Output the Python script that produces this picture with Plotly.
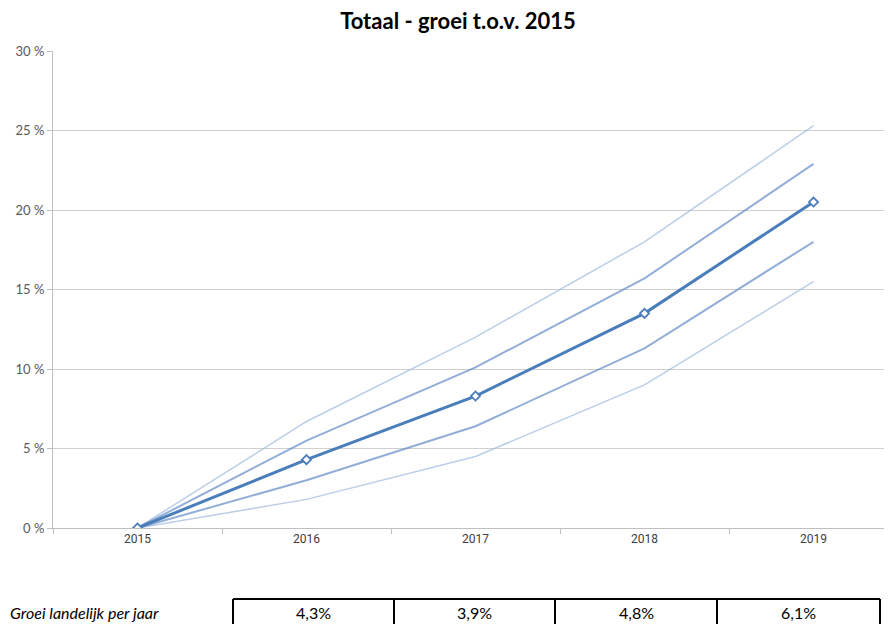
import plotly.graph_objects as go

years = ["2015", "2016", "2017", "2018", "2019"]
main = [0, 4.3, 8.3, 13.5, 20.5]
upper2 = [0, 6.7, 12.0, 18.0, 25.3]
upper1 = [0, 5.5, 10.1, 15.7, 22.9]
lower1 = [0, 3.0, 6.4, 11.3, 18.0]
lower2 = [0, 1.8, 4.5, 9.0, 15.5]
growth = [4.3, 3.9, 4.8, 6.1]
growth_label = "Groei landelijk per jaar"
yticks = [0, 5, 10, 15, 20, 25, 30]

# page body has an 8px margin; work in page pixels and convert
OFF = 8
PW, PH = 892, 624
W, H = PW - OFF, PH - OFF
plot_left, plot_right, plot_top, plot_bottom = 53, PW, 51, 528
ml = plot_left - OFF
mr = 0
mt = plot_top - OFF
mb = H - (plot_bottom - OFF)

fig = go.Figure()
light = "rgba(150,180,220,0.65)"
mid = "rgba(100,140,200,0.7)"
blue = "#4a7ebb"
for ys, col, w in [(upper2, light, 1.5), (lower2, light, 1.5), (upper1, mid, 2), (lower1, mid, 2)]:
    fig.add_trace(go.Scatter(x=years, y=ys, mode="lines", line=dict(color=col, width=w),
                             hoverinfo="skip", showlegend=False))
fig.add_trace(go.Scatter(x=years, y=main, mode="lines+markers",
                         line=dict(color=blue, width=3),
                         marker=dict(symbol="diamond", size=7, color="white",
                                     line=dict(color=blue, width=1.8)),
                         showlegend=False))

fig.update_layout(
    width=W, height=H,
    margin=dict(l=ml, r=mr, t=mt, b=mb),
    paper_bgcolor="white", plot_bgcolor="white",
    title=dict(text="<b>Totaal - groei t.o.v. 2015</b>", x=(458 - OFF) / W, xanchor="center",
               y=1 - (21 - OFF) / H, yanchor="middle",
               font=dict(family="Lato", size=22, color="black")),
    font=dict(family="Lato", color="#595959"),
    xaxis=dict(type="category", range=[-0.5, -0.5 + (plot_right - plot_left) / 169.0],
               tickson="boundaries", ticks="outside", ticklen=5, tickcolor="#bfbfbf",
               showline=True, linecolor="#bfbfbf", linewidth=1, showgrid=False,
               tickfont=dict(family="Roboto", size=12, color="#404040")),
    yaxis=dict(range=[0, 30], tickvals=yticks, ticktext=[f"{v} %" for v in yticks],
               ticks="outside", ticklen=5, tickcolor="#bfbfbf",
               showline=True, linecolor="#bfbfbf", linewidth=1,
               showgrid=True, gridcolor="#d0d0d0", gridwidth=1, zeroline=False,
               tickfont=dict(family="Lato", size=13, color="#595959")),
)

# table below the chart (positions in page pixels)
pw = plot_right - plot_left
ph = plot_bottom - plot_top
def px_x(px):
    return (px - plot_left) / pw
def px_y(py):
    return (plot_bottom - py) / ph

bounds = [233, 394, 555, 717, 880]
top = 599
fig.add_shape(type="line", xref="paper", yref="paper", x0=px_x(bounds[0]), x1=px_x(bounds[-1]),
              y0=px_y(top), y1=px_y(top), line=dict(color="black", width=2))
for b in bounds:
    fig.add_shape(type="line", xref="paper", yref="paper", x0=px_x(b), x1=px_x(b),
                  y0=px_y(top), y1=px_y(PH + 20), line=dict(color="black", width=2))
for i, g in enumerate(growth):
    cx = (bounds[i] + bounds[i + 1]) / 2
    fig.add_annotation(xref="paper", yref="paper", x=px_x(cx), y=px_y(612),
                       text=f"{g:.1f}%".replace(".", ","), showarrow=False,
                       xanchor="center", yanchor="middle",
                       font=dict(family="Lato", size=16, color="black"))
fig.add_annotation(xref="paper", yref="paper", x=px_x(8), y=px_y(612),
                   text=f"<i>{growth_label}</i>", showarrow=False,
                   xanchor="left", yanchor="middle",
                   font=dict(family="Lato", size=16, color="black"))

fig.write_html("out.html")
